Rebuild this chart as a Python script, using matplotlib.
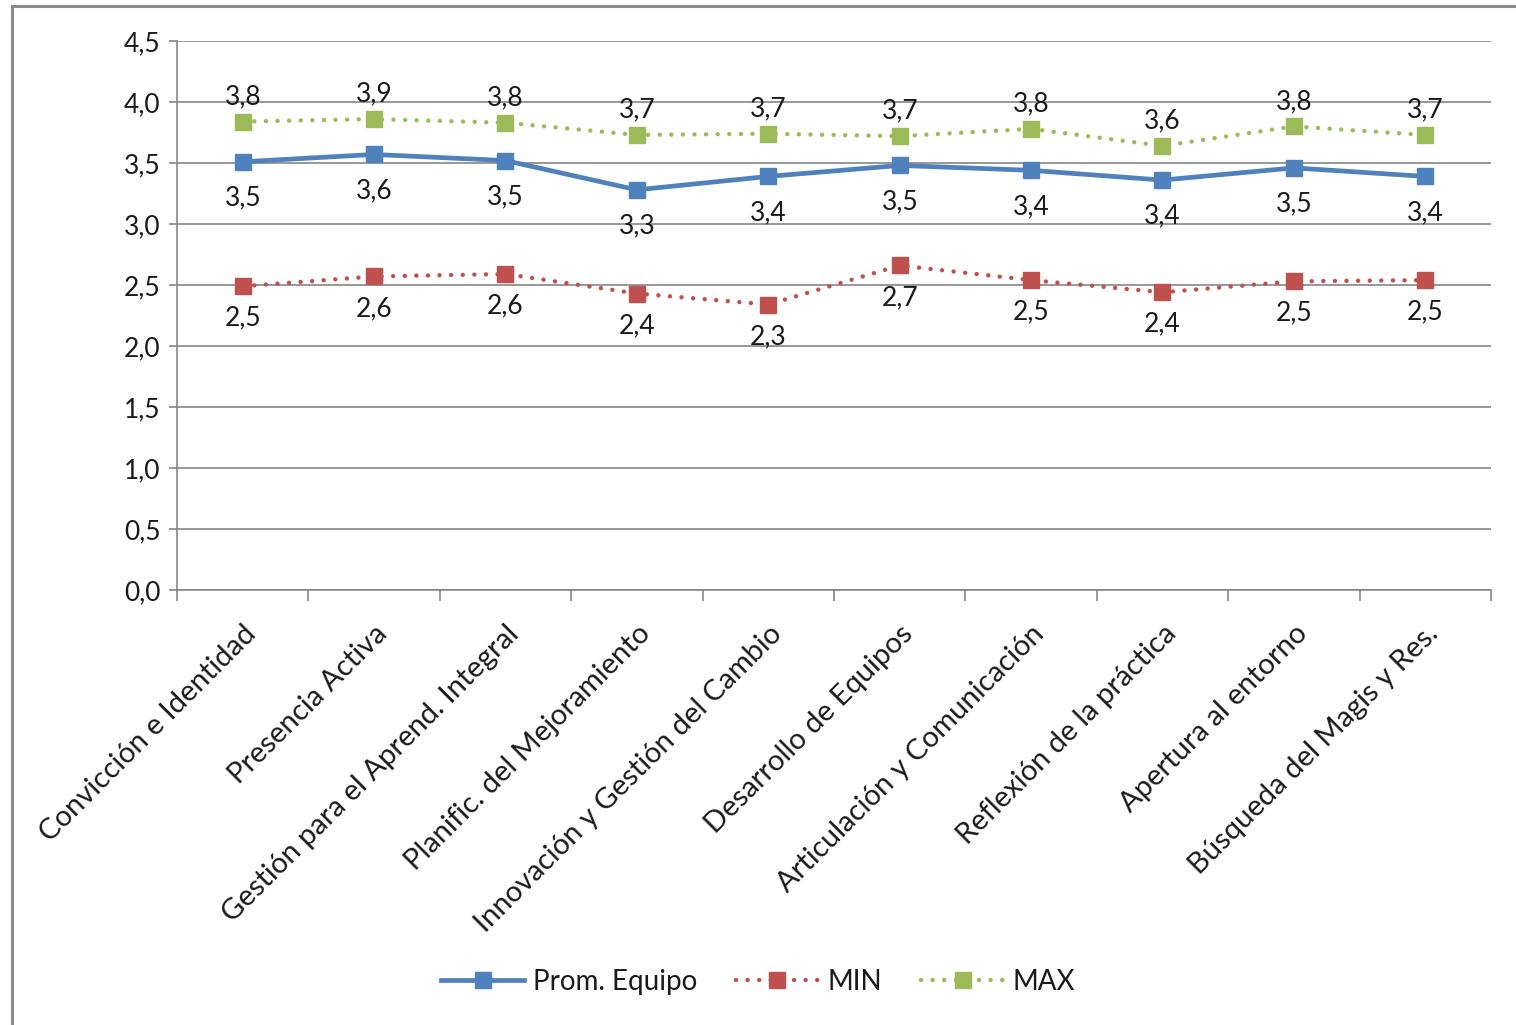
import numpy as np
import matplotlib.pyplot as plt
from matplotlib.patches import Rectangle

categorias = ["Convicción e Identidad", "Presencia Activa", "Gestión para el Aprend. Integral",
              "Planific. del Mejoramiento", "Innovación y Gestión del Cambio", "Desarrollo de Equipos",
              "Articulación y Comunicación", "Reflexión de la práctica", "Apertura al entorno",
              "Búsqueda del Magis y Res."]
prom_equipo = [3.51, 3.57, 3.52, 3.28, 3.39, 3.48, 3.44, 3.36, 3.46, 3.39]
minimo = [2.49, 2.57, 2.59, 2.43, 2.34, 2.66, 2.54, 2.44, 2.53, 2.54]
maximo = [3.84, 3.86, 3.83, 3.73, 3.74, 3.72, 3.78, 3.64, 3.80, 3.73]

AZUL = "#4F81BD"
ROJO = "#C0504D"
VERDE = "#9BBB59"
GRIS = "#868686"
TEXTO = "#1a1a1a"

plt.rcParams['font.family'] = ['Lato', 'DejaVu Sans']


def fmt(v):
    return f"{v:.1f}".replace(".", ",")


fig = plt.figure(figsize=(15.16, 10.25), dpi=100)
# marco del grafico
fig.patches.append(Rectangle((12 / 1516, -0.01), 1.1, 1 - 6 / 1025 + 0.01,
                             transform=fig.transFigure, fill=False, ec="#8c8c8c", lw=2.2))
ax = fig.add_axes([177 / 1516, 1 - 590 / 1025, (1491 - 177) / 1516, (590 - 41) / 1025])

punteado = (0, (0.01, 2.6))
x = np.arange(len(categorias))
ax.plot(x, prom_equipo, color=AZUL, lw=3.4, marker="s", ms=11.5, label="Prom. Equipo", zorder=4)
ax.plot(x, minimo, color=ROJO, lw=3.2, ls=punteado, dash_capstyle="round",
        marker="s", ms=11.5, label="MIN", zorder=3)
ax.plot(x, maximo, color=VERDE, lw=3.2, ls=punteado, dash_capstyle="round",
        marker="s", ms=11.5, label="MAX", zorder=3)

for xi, v in zip(x, maximo):
    ax.annotate(fmt(v), (xi, v), xytext=(0, 18), textcoords="offset points",
                ha="center", va="center", fontsize=19, color=TEXTO)
for xi, v in zip(x, prom_equipo):
    ax.annotate(fmt(v), (xi, v), xytext=(0, -26), textcoords="offset points",
                ha="center", va="center", fontsize=19, color=TEXTO)
for xi, v in zip(x, minimo):
    ax.annotate(fmt(v), (xi, v), xytext=(0, -23), textcoords="offset points",
                ha="center", va="center", fontsize=19, color=TEXTO)

ax.set_xlim(-0.5, len(categorias) - 0.5)
ax.set_ylim(0, 4.5)
ax.set_yticks(np.arange(0, 4.51, 0.5))
ax.set_yticklabels([fmt(v) for v in np.arange(0, 4.51, 0.5)], fontsize=19, color=TEXTO)
ax.yaxis.grid(True, color=GRIS, lw=1.2)
ax.set_axisbelow(True)

ax.set_xticks(x)
ax.set_xticklabels(categorias, rotation=45, ha="right", va="top", rotation_mode="anchor",
                   fontsize=21, color=TEXTO)
ax.set_xticks(np.arange(-0.5, len(categorias), 1), minor=True)
ax.tick_params(axis="x", which="major", length=0, pad=22)
ax.tick_params(axis="x", which="minor", length=8, color=GRIS, width=1.2)
ax.tick_params(axis="y", length=6, color=GRIS, width=1.2, pad=6)

for s in ["top", "right"]:
    ax.spines[s].set_visible(False)
for s in ["left", "bottom"]:
    ax.spines[s].set_color(GRIS)
    ax.spines[s].set_linewidth(1.2)

leg = fig.legend(loc="center", bbox_to_anchor=(0.5, 1 - 982 / 1025), ncol=3, frameon=False,
                 fontsize=20, handlelength=3.0, columnspacing=1.4, handletextpad=0.3)
for t in leg.get_texts():
    t.set_color(TEXTO)

fig.savefig("out.png", dpi=100)
